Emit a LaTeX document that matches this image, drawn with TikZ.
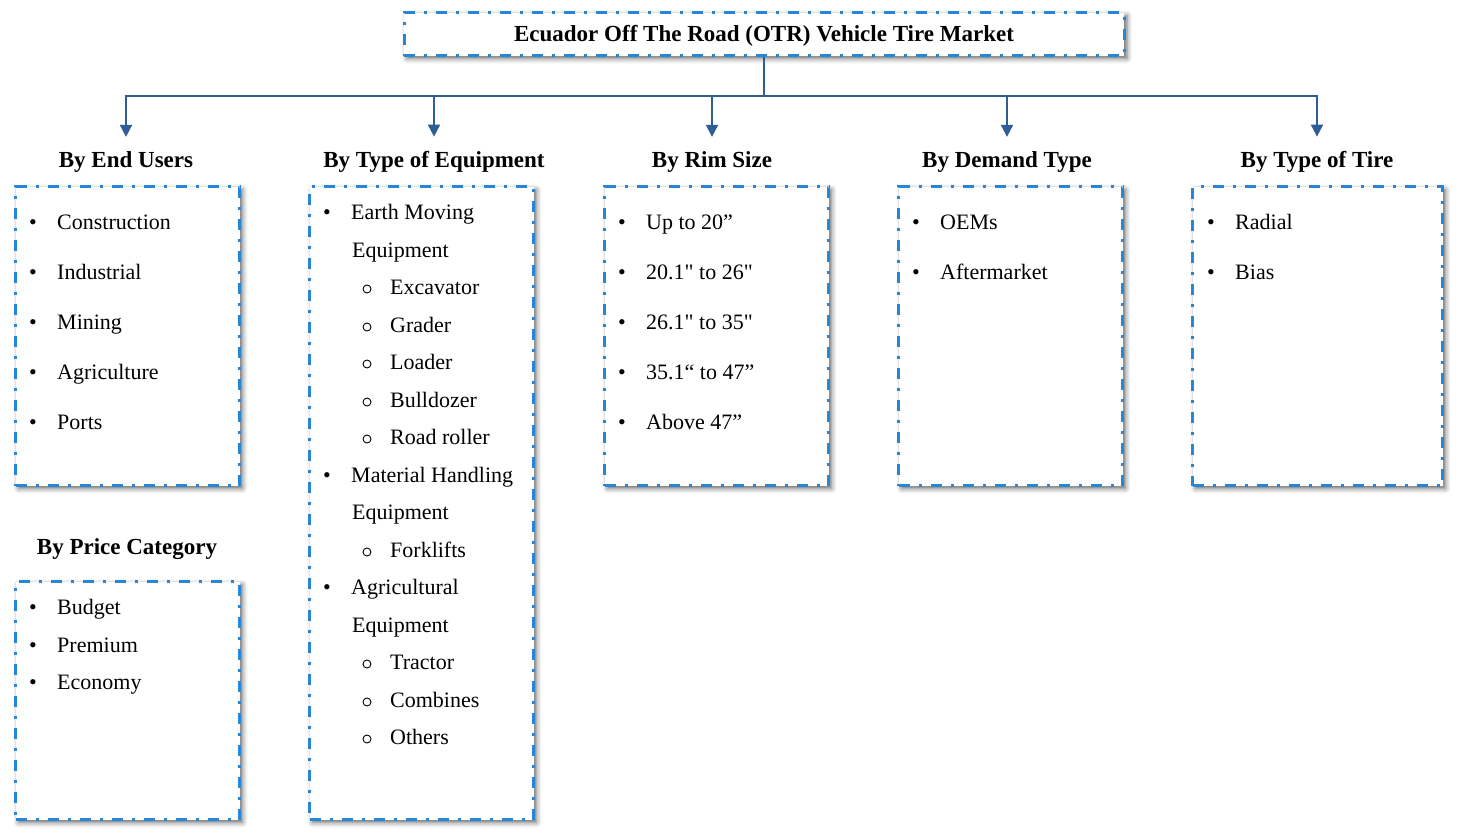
\documentclass[tikz,border=0pt]{standalone}
\usepackage{fontspec}
\newfontfamily\cambr{Liberation Serif}
\usetikzlibrary{arrows.meta,shadows.blur}
\definecolor{dashblue}{RGB}{40,134,214}
\definecolor{connblue}{RGB}{46,94,150}
\newcommand\bitem[4]{%
  \node[bul] (#1b) at (#2,#3+7.5) {•};
  \node[item] (#1) at (#2+24,#3+7.5) {#4};}
\newcommand\citem[4]{%
  \node[circ] (#1b) at (#2,#3+2) {};
  \node[item] (#1) at (#2+23,#3+7.5) {#4};}
\newcommand\pitem[4]{%
  \node[item] (#1) at (#2,#3+7.5) {#4};}
\begin{document}
\begin{tikzpicture}[x=1pt,y=-1pt,
 box/.style={draw=dashblue, line width=3pt, dash pattern=on 11pt off 9pt on 3pt off 9pt,
   fill=white, blur shadow={shadow xshift=3pt, shadow yshift=-3pt, shadow blur radius=5pt, shadow opacity=60},
   inner sep=0pt, anchor=north west},
 head/.style={font=\cambr\fontsize{23}{27}\selectfont\bfseries, anchor=base, inner sep=0pt},
 item/.style={font=\cambr\fontsize{22}{26}\selectfont, anchor=base west, inner sep=0pt},
 bul/.style={font=\cambr\fontsize{22}{26}\selectfont, anchor=base, inner sep=0pt},
 circ/.style={circle, draw=black, line width=0.9pt, minimum size=8pt, inner sep=0pt},
 conn/.style={draw=connblue, line width=2pt},
 arr/.style={conn, -{Triangle[width=12pt,length=12pt]}},
]
\useasboundingbox (0,0) rectangle (1457,838);

% title
\node[box, anchor=center, minimum width=720pt, minimum height=43pt,
      text height=16pt, text depth=2pt,
      font=\cambr\fontsize{23}{27}\selectfont\bfseries] (title) at (764,34)
      {Ecuador Off The Road (OTR) Vehicle Tire Market};

% headings
\node[head] (h1) at (126,167) {By End Users};
\node[head] (h2) at (434,167) {By Type of Equipment};
\node[head] (h3) at (712,167) {By Rim Size};
\node[head] (h4) at (1007,167) {By Demand Type};
\node[head] (h5) at (1317,167) {By Type of Tire};
\node[head] (h6) at (127,554) {By Price Category};

% connectors
\coordinate (bus) at (764,96);
\draw[conn] (title.south) -- (bus);
\draw[arr] (bus) -| ([yshift=14pt]h1.north);
\draw[arr] (bus) -| ([yshift=14pt]h2.north);
\draw[arr] (bus) -| ([yshift=14pt]h3.north);
\draw[arr] (bus) -| ([yshift=14pt]h4.north);
\draw[arr] (bus) -| ([yshift=14pt]h5.north);

% boxes
\node[box, minimum width=224pt, minimum height=299pt] (b1) at (14,185) {};
\node[box, minimum width=224pt, minimum height=633pt] (b2) at (308,185) {};
\node[box, minimum width=224pt, minimum height=299pt] (b3) at (603,185) {};
\node[box, minimum width=224pt, minimum height=299pt] (b4) at (897,185) {};
\node[box, minimum width=250pt, minimum height=299pt] (b5) at (1191,185) {};
\node[box, minimum width=224pt, minimum height=238pt] (b6) at (14,580) {};

% end users
\bitem{eu1}{33}{222}{Construction}
\bitem{eu2}{33}{272}{Industrial}
\bitem{eu3}{33}{322}{Mining}
\bitem{eu4}{33}{372}{Agriculture}
\bitem{eu5}{33}{422}{Ports}

% equipment
\bitem{eq1}{327}{212}{Earth Moving}
\pitem{eq1a}{352}{250}{Equipment}
\citem{eq2}{367}{287}{Excavator}
\citem{eq3}{367}{325}{Grader}
\citem{eq4}{367}{362}{Loader}
\citem{eq5}{367}{400}{Bulldozer}
\citem{eq6}{367}{437}{Road roller}
\bitem{eq7}{327}{475}{Material Handling}
\pitem{eq7a}{352}{512}{Equipment}
\citem{eq8}{367}{550}{Forklifts}
\bitem{eq9}{327}{587}{Agricultural}
\pitem{eq9a}{352}{625}{Equipment}
\citem{eq10}{367}{662}{Tractor}
\citem{eq11}{367}{700}{Combines}
\citem{eq12}{367}{737}{Others}

% rim size
\bitem{rs1}{622}{222}{Up to 20”}
\bitem{rs2}{622}{272}{20.1" to 26"}
\bitem{rs3}{622}{322}{26.1" to 35"}
\bitem{rs4}{622}{372}{35.1“ to 47”}
\bitem{rs5}{622}{422}{Above 47”}

% demand
\bitem{dt1}{916}{222}{OEMs}
\bitem{dt2}{916}{272}{Aftermarket}

% tire
\bitem{tt1}{1211}{222}{Radial}
\bitem{tt2}{1211}{272}{Bias}

% price
\bitem{pc1}{33}{607}{Budget}
\bitem{pc2}{33}{645}{Premium}
\bitem{pc3}{33}{682}{Economy}
\end{tikzpicture}
\end{document}
